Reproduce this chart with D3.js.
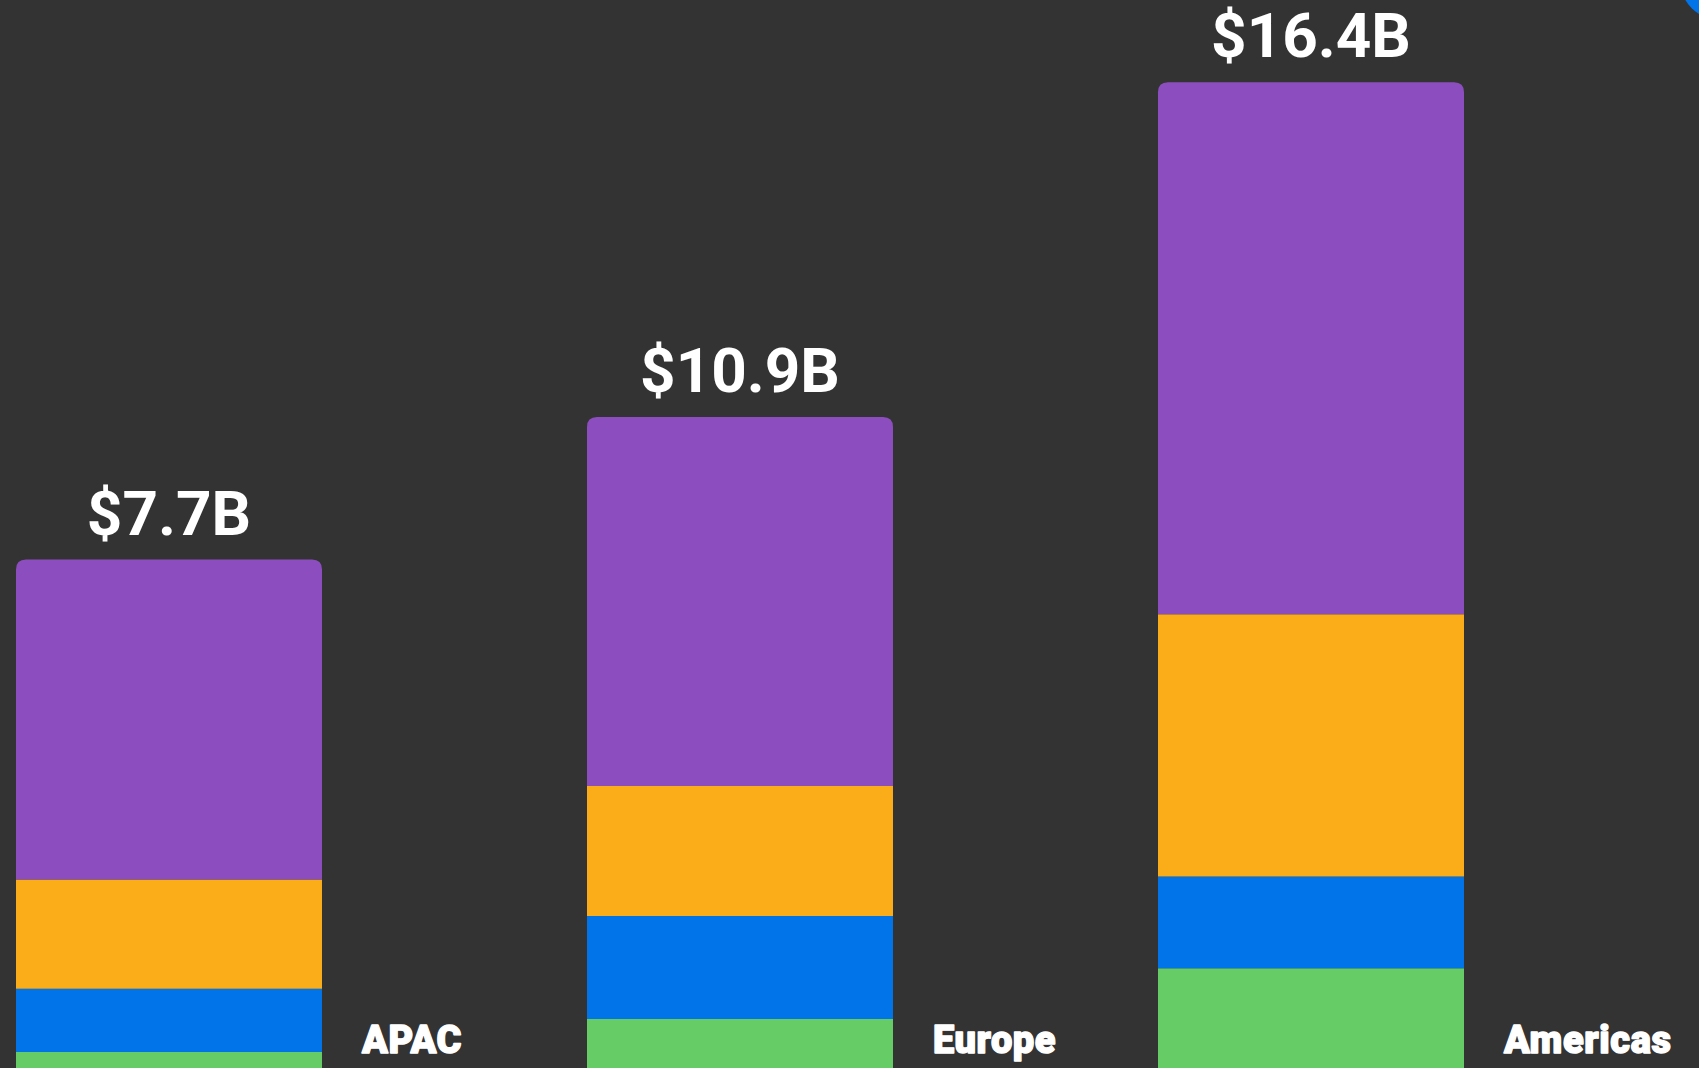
<!DOCTYPE html>
<html>
<head>
<meta charset="utf-8">
<script src="https://cdn.jsdelivr.net/npm/d3@7"></script>
<style>
  html, body { margin: 0; padding: 0; background: #333333; overflow: hidden; }
  svg { display: block; }
</style>
</head>
<body>
<svg id="chart" width="1699" height="1068"></svg>
<script>
// regions and their totals (labels above bars)
const regions = ["APAC", "Europe", "Americas"];
const totals  = [7.7, 10.9, 16.4];

// stacked segments, $B, bottom to top (bars run past the bottom edge)
const segGreen  = [0.76, 1.29, 2.11];
const segBlue   = [1.02, 1.66, 1.48];
const segOrange = [1.76, 2.10, 4.23];
const segPurple = [5.16, 5.95, 8.58];

const keys   = ["green", "blue", "orange", "purple"];
const colors = { green: "#66CC66", blue: "#0274E9", orange: "#FBAD19", purple: "#8C4EBE" };

const W = 1699, H = 1068;
const svg = d3.select("#chart");

const rows = regions.map((r, i) => ({
  region: r,
  total: totals[i],
  green: segGreen[i], blue: segBlue[i], orange: segOrange[i], purple: segPurple[i]
}));

const x = d3.scaleBand()
  .domain(regions)
  .range([16, 1464])
  .paddingInner(0.4641)
  .paddingOuter(0);

const maxStack = d3.max(rows, d => keys.reduce((s, k) => s + d[k], 0));
const y = d3.scaleLinear()
  .domain([0, maxStack])
  .range([1099, 1099 - 62 * maxStack]);

const series = d3.stack().keys(keys)(rows);

// rect with only the top corners rounded
function topRounded(x0, y0, w, h, r) {
  r = Math.min(r, h, w / 2);
  return `M${x0},${y0 + h}V${y0 + r}Q${x0},${y0} ${x0 + r},${y0}` +
         `H${x0 + w - r}Q${x0 + w},${y0} ${x0 + w},${y0 + r}V${y0 + h}Z`;
}

const g = svg.append("g");
series.forEach(s => {
  const isTop = s.key === keys[keys.length - 1];
  g.selectAll(null)
    .data(s)
    .enter().append("path")
    .attr("fill", colors[s.key])
    .attr("d", d => {
      const x0 = x(d.data.region), w = x.bandwidth();
      const y0 = y(d[1]), h = y(d[0]) - y(d[1]);
      return isTop ? topRounded(x0, y0, w, h, 10) : `M${x0},${y0}h${w}v${h}h${-w}Z`;
    });
});

// totals above bars
g.selectAll(".total")
  .data(rows)
  .enter().append("text")
  .attr("class", "total")
  .attr("x", d => x(d.region) + x.bandwidth() / 2)
  .attr("y", d => y(keys.reduce((s, k) => s + d[k], 0)) - 25)
  .attr("text-anchor", "middle")
  .attr("font-family", "Roboto, 'Noto Sans', sans-serif")
  .attr("font-weight", "700")
  .attr("font-size", 62)
  .attr("fill", "#ffffff")
  .text(d => `$${d.total.toFixed(1)}B`);

// region labels to the right of each bar (heavier face)
g.selectAll(".region")
  .data(rows)
  .enter().append("text")
  .attr("class", "region")
  .attr("x", d => x(d.region) + x.bandwidth() + 40)
  .attr("y", 1053)
  .attr("font-family", "Roboto, 'Noto Sans', sans-serif")
  .attr("font-weight", "900")
  .attr("font-size", 38)
  .attr("letter-spacing", 0.6)
  .attr("fill", "#ffffff")
  .attr("stroke", "#ffffff")
  .attr("stroke-width", 1.4)
  .attr("stroke-linejoin", "round")
  .text(d => d.region);

// blue shape peeking in at the top-right corner
svg.append("circle")
  .attr("cx", W + 21).attr("cy", -20).attr("r", 40)
  .attr("fill", "#0274E9");
</script>
</body>
</html>
